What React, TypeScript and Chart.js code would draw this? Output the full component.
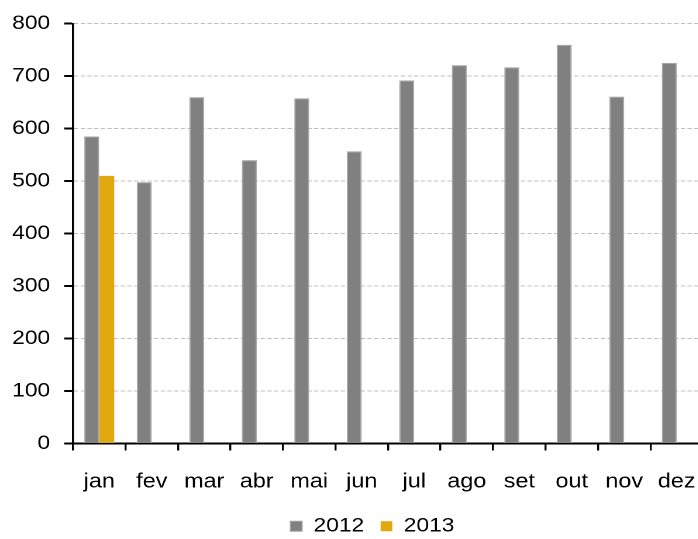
import React, { useEffect, useRef } from "react";
import { Chart, registerables } from "chart.js";

Chart.register(...registerables);

const categories = ["jan", "fev", "mar", "abr", "mai", "jun", "jul", "ago", "set", "out", "nov", "dez"];
const series2012 = [585, 498, 660, 540, 658, 557, 692, 721, 717, 760, 661, 725];
const series2013 = [510, null, null, null, null, null, null, null, null, null, null, null];
const seriesNames = ["2012", "2013"];
const yTickMin = 0;
const yTickMax = 800;
const yTickStep = 100;

const FONT = "'Liberation Sans', Arial, Helvetica, sans-serif";
const STRETCH = 1.17;
const LOGICAL_W = 601;
const LOGICAL_H = 546;

const shiftLegend = {
  id: "shiftLegend",
  afterLayout(chart: any) {
    if (chart.legend) {
      chart.legend.left = 35.8;
      chart.legend.right = 601;
    }
  },
};

export default function App() {
  const ref = useRef<HTMLCanvasElement | null>(null);

  useEffect(() => {
    if (!ref.current) return;
    const chart = new Chart(ref.current, {
      type: "bar",
      data: {
        labels: categories,
        datasets: [
          {
            label: seriesNames[0],
            data: series2012,
            backgroundColor: "#808080",
            borderColor: "#a6a6a6",
            borderWidth: 1,
          },
          {
            label: seriesNames[1],
            data: series2013,
            backgroundColor: "#e1a90f",
            borderColor: "#e1a90f",
            borderWidth: 0,
          },
        ],
      },
      plugins: [shiftLegend],
      options: {
        responsive: false,
        animation: false,
        devicePixelRatio: 2,
        layout: { padding: { left: 0, right: 0, top: 22.5, bottom: 0 } },
        datasets: {
          bar: { categoryPercentage: 0.57, barPercentage: 1 },
        },
        plugins: {
          tooltip: { enabled: false },
          legend: {
            position: "bottom",
            labels: {
              boxWidth: 10,
              boxHeight: 10,
              padding: 14,
              color: "#000",
              font: { family: FONT, size: 19.5 },
            },
          },
        },
        scales: {
          x: {
            afterFit: (scale: any) => {
              scale.height = 59;
            },
            grid: {
              offset: true,
              drawOnChartArea: false,
              drawTicks: true,
              tickLength: 7,
              color: "#000",
              tickColor: "#000",
              lineWidth: 1.7,
              tickWidth: 1.7,
            },
            border: { display: true, color: "#000", width: 2 },
            ticks: {
              color: "#000",
              padding: 0,
              maxRotation: 0,
              autoSkip: false,
              font: { family: FONT, size: 20, lineHeight: "62.6px" },
            },
          },
          y: {
            min: yTickMin,
            max: yTickMax,
            afterFit: (scale: any) => {
              scale.width = 62.4;
            },
            grid: {
              color: "#c0c0c0",
              lineWidth: 1,
              tickBorderDash: [],
              tickColor: "#000",
              tickWidth: 2,
              tickLength: 7.5,
              drawTicks: true,
            },
            border: { display: true, color: "#000", width: 1.8, dash: [3.7, 2] },
            ticks: {
              stepSize: yTickStep,
              color: "#000",
              padding: 12,
              font: { family: FONT, size: 19.5 },
            },
          },
        },
      },
    } as any);
    return () => chart.destroy();
  }, []);

  return (
    <div
      style={{
        position: "absolute",
        left: 0,
        top: 0,
        width: 698,
        height: 539,
        overflow: "hidden",
        background: "#fff",
      }}
    >
      <canvas
        ref={ref}
        width={LOGICAL_W}
        height={LOGICAL_H}
        style={{
          display: "block",
          width: `${(LOGICAL_W * STRETCH).toFixed(2)}px`,
          height: `${LOGICAL_H}px`,
        }}
      />
    </div>
  );
}
